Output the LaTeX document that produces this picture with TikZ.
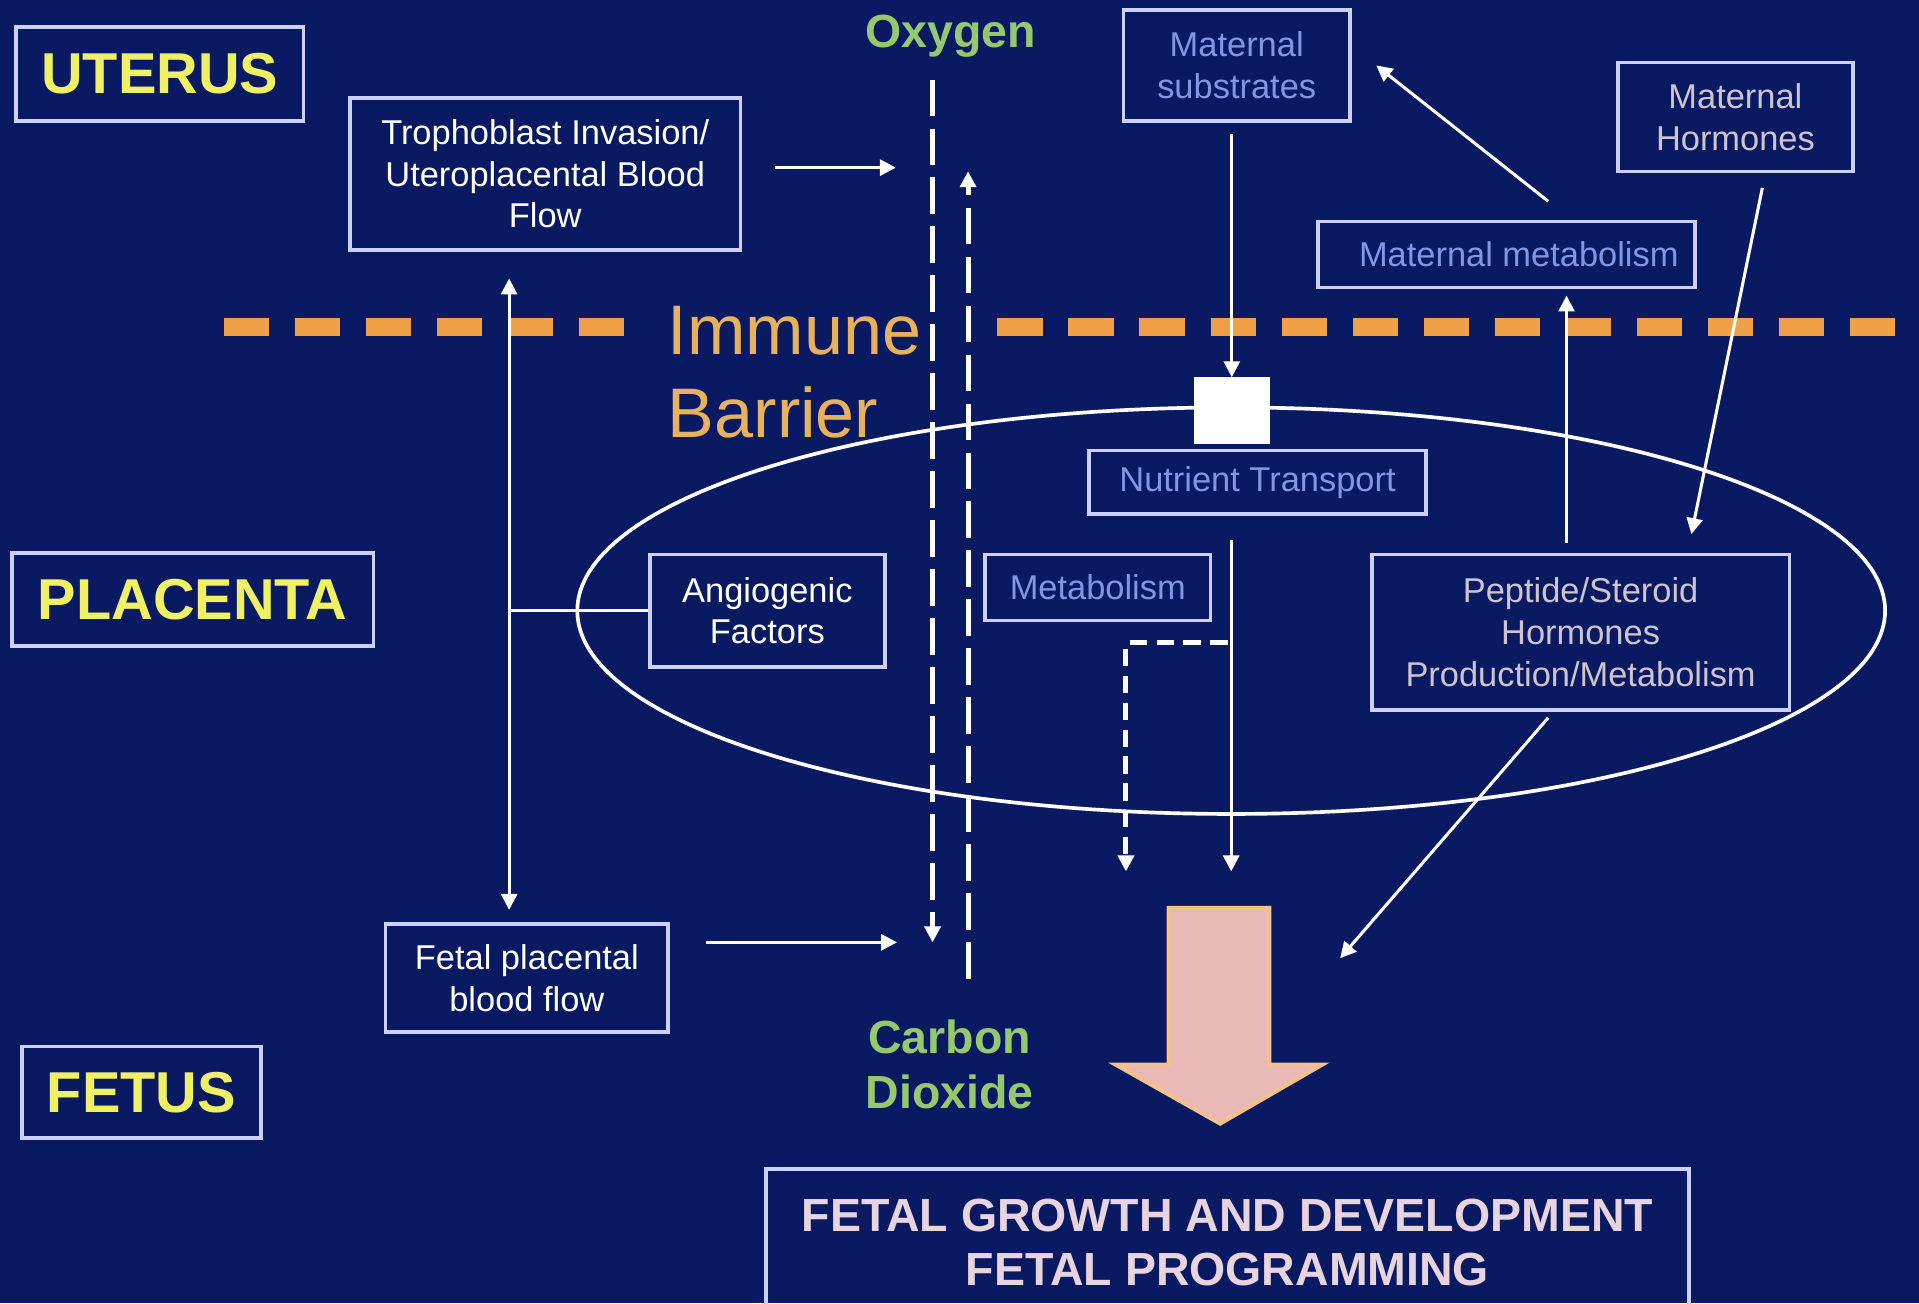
\documentclass[tikz,border=0pt]{standalone}
\usepackage{fontspec}
\setmainfont{Liberation Sans}
\usetikzlibrary{shapes.geometric,arrows.meta,positioning}

\definecolor{navybg}{RGB}{9,26,98}
\definecolor{boxline}{RGB}{205,208,250}
\definecolor{regionyellow}{RGB}{240,240,100}
\definecolor{gasgreen}{RGB}{150,200,110}
\definecolor{barrierorange}{RGB}{240,160,70}
\definecolor{barriertext}{RGB}{232,178,92}
\definecolor{paleblue}{RGB}{130,150,228}
\definecolor{palegrey}{RGB}{205,196,205}
\definecolor{growthpink}{RGB}{234,184,182}
\definecolor{growthpeach}{RGB}{244,192,140}
\definecolor{growthtext}{RGB}{232,212,222}

\begin{document}
\begin{tikzpicture}[x=0.01cm, y=-0.01cm,
  box/.style={draw=boxline, line width=0.3mm, align=center, inner sep=0pt, text=white,
    font=\fontsize{8}{9.7}\selectfont},
  region/.style={box, text=regionyellow, font=\fontsize{13.4}{16}\selectfont\bfseries},
  gas/.style={text=gasgreen, align=center, font=\fontsize{10.8}{12.8}\selectfont\bfseries},
  arr/.style={draw=white, line width=0.25mm, -{Triangle[width=1.3mm,length=1.3mm]}},
  gasline/.style={arr, line width=0.4mm, dash pattern=on 3mm off 1mm},
  metabline/.style={arr, line width=0.4mm, dash pattern=on 1.4mm off 0.8mm}]

  % Canvas
  \useasboundingbox (0,0) rectangle (1568,1065);
  \clip (0,0) rectangle (1568,1065);
  \fill[navybg] (0,0) rectangle (1568,1065);

  % Regions
  \node[region, minimum width=2.35cm, minimum height=0.77cm] (uterus) at (130.5,60.5) {UTERUS};
  \node[region, minimum width=2.95cm, minimum height=0.76cm] (placenta) at (157.5,490) {PLACENTA};
  \node[region, minimum width=1.95cm, minimum height=0.75cm] (fetus) at (115.5,892.5) {FETUS};

  % Immune barrier
  \draw[barrierorange, line width=1.5mm, dash pattern=on 3.7mm off 2.1mm] (183,267) -- (515,267);
  \draw[barrierorange, line width=1.5mm, dash pattern=on 3.7mm off 2.1mm] (815,267) -- (1590,267);
  \node[anchor=west, text=barriertext, align=left, inner sep=0pt,
    font=\fontsize{16.3}{19.3}\selectfont] (barrier) at (545,304) {Immune\\Barrier};

  % Placenta
  \node[ellipse, draw=white, line width=0.3mm, minimum width=10.68cm, minimum height=3.32cm] (oval) at (1006,499) {};

  % Boxes
  \node[box, minimum width=3.19cm, minimum height=1.24cm] (tropho) at (445.5,142)
    {Trophoblast Invasion/\\Uteroplacental Blood\\Flow};
  \node[box, minimum width=2.31cm, minimum height=0.88cm] (fpbf) at (430.5,799)
    {Fetal placental\\blood flow};
  \node[box, minimum width=1.92cm, minimum height=0.92cm] (angio) at (627,499)
    {Angiogenic\\Factors};
  \node[box, text=paleblue, minimum width=1.85cm, minimum height=0.91cm] (matsub) at (1010.5,53.5)
    {Maternal\\substrates};
  \node[box, text=palegrey, minimum width=1.92cm, minimum height=0.89cm] (mathorm) at (1418,95.5)
    {Maternal\\Hormones};
  \node[box, text=paleblue, minimum width=3.08cm, minimum height=0.54cm] (matmet) at (1231,208)
    {\hspace*{0.2cm}Maternal metabolism};
  \node[box, text=paleblue, minimum width=1.84cm, minimum height=0.54cm] (metab) at (897,480)
    {Metabolism};
  \node[draw=white, fill=white, minimum width=0.61cm, minimum height=0.53cm, inner sep=0pt] (gate) at (1006.5,335.5) {};
  \node[box, text=paleblue, minimum width=2.75cm, minimum height=0.52cm] (nutr) at (1027.5,394)
    {Nutrient Transport};
  \node[box, text=palegrey, minimum width=3.41cm, minimum height=1.27cm] (peptide) at (1291.5,516.5)
    {Peptide/Steroid\\Hormones\\Production/Metabolism};
  \node[box, text=growthtext, minimum width=7.54cm, minimum height=1.2cm,
    font=\fontsize{10.8}{12.5}\selectfont\bfseries] (growth) at (1003,1015)
    {FETAL GROWTH AND DEVELOPMENT\\FETAL PROGRAMMING};

  % Gases
  \node[gas] (oxygen) at (777,30) {Oxygen};
  \node[gas] (carbon) at (776,870) {Carbon\\Dioxide};
  \coordinate (o2top) at (762,65);
  \coordinate (o2end) at (762,770);
  \coordinate (co2bot) at (791,800);
  \coordinate (co2end) at (791,140);
  \draw[gasline] (o2top) -- (o2end);
  \draw[gasline] (co2bot) -- (co2end);

  % Blood flow
  \coordinate (o2in) at (732,137);
  \coordinate (co2in) at (733,770);
  \coordinate (flowaxis) at (416,499);
  \draw[arr, shorten <=0.27cm] (tropho.east |- o2in) -- (o2in);
  \draw[arr, shorten <=0.29cm] (fpbf.east |- co2in) -- (co2in);
  \draw[arr, {Triangle[width=1.3mm,length=1.3mm]}-{Triangle[width=1.3mm,length=1.3mm]},
    shorten <=0.22cm, shorten >=0.1cm] (tropho.south -| flowaxis) -- (fpbf.north -| flowaxis);
  \draw[white, line width=0.25mm] (angio.west) -- (flowaxis);

  % Nutrients
  \coordinate (nutrend) at (1006,712);
  \coordinate (metabtap) at (1003,525);
  \coordinate (metabend) at (920,712);
  \draw[arr, shorten <=0.09cm] (matsub.south -| gate.north) -- (gate.north);
  \draw[arr, shorten <=0.2cm] (nutr.south -| nutrend) -- (nutrend);
  \draw[metabline] (metabtap) -| (metabend);

  % Hormones
  \coordinate (hormaxis) at (1280,300);
  \coordinate (growthin) at (1095,783);
  \draw[arr, shorten <=0.08cm, shorten >=0.05cm] (peptide.north -| hormaxis) -- (matmet.south -| hormaxis);
  \draw[arr] ([xshift=0.34cm, yshift=0.15cm]matmet.north) -- ([xshift=0.2cm]matsub.east);
  \draw[arr] ([xshift=0.22cm, yshift=-0.12cm]mathorm.south) -- ([xshift=0.905cm, yshift=0.15cm]peptide.north);
  \draw[arr] ([xshift=-0.265cm, yshift=-0.05cm]peptide.south) -- (growthin);

  % Big arrow
  \filldraw[fill=growthpink, draw=growthpeach, line width=0.35mm, line join=miter]
    (955,742) -- (1037,742) -- (1037,870) -- (1080,870) -- (997,918) -- (912,870) -- (955,870) -- cycle;

\end{tikzpicture}
\end{document}
